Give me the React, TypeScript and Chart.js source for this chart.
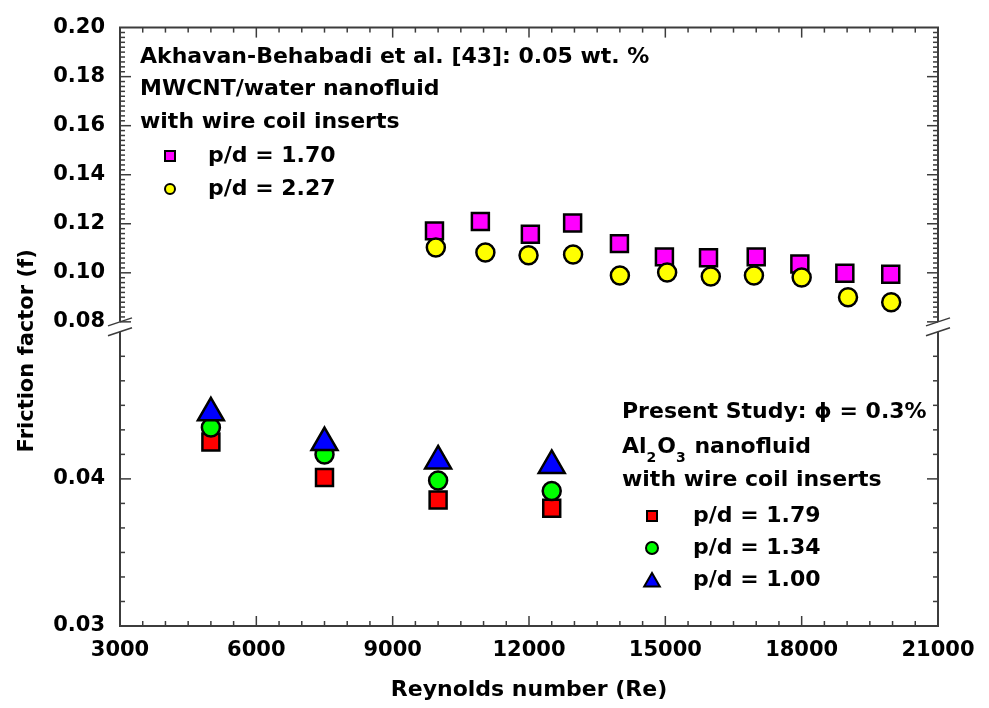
import React, { useEffect, useRef } from 'react';
import { Chart, registerables } from 'chart.js';

Chart.register(...registerables);

// ---- Data ----
// Akhavan-Behabadi et al. [43], MWCNT/water, wire coil inserts
const RE_PD170 = [9920, 10930, 12030, 12960, 13990, 14980, 15950, 17000, 17960, 18950, 19960];
const F_PD170 = [0.1171, 0.1209, 0.1157, 0.1203, 0.1119, 0.1065, 0.1061, 0.1065, 0.1036, 0.0998, 0.0994];
const RE_PD227 = [9950, 11040, 11990, 12970, 14000, 15040, 16000, 16950, 18000, 19020, 19970];
const F_PD227 = [0.1103, 0.1083, 0.1072, 0.1075, 0.0989, 0.1001, 0.0985, 0.0989, 0.0981, 0.0900, 0.0880];

// Present study, Al2O3 nanofluid phi = 0.3%
const RE_PRESENT = [5000, 7500, 10000, 12500];
const F_PD179 = [0.0425, 0.0401, 0.03856, 0.0380];
const F_PD134 = [0.04349, 0.04165, 0.03989, 0.03917];
const F_PD100 = [0.04449, 0.04247, 0.04122, 0.04091];

// ---- Axes ----
const X_TICKS = [3000, 6000, 9000, 12000, 15000, 18000, 21000];
const Y_TOP_TICKS = [0.08, 0.10, 0.12, 0.14, 0.16, 0.18, 0.20];
const Y_BOT_TICKS = [0.03, 0.04];
const X_MIN = 3000;
const X_MAX = 21000;
const Y_TOP_MIN = 0.08;
const Y_TOP_MAX = 0.20;
const Y_BOT_MIN = 0.03;
const Y_BOT_MAX = 0.05;

const FONT_FAMILY = '"DejaVu Sans", sans-serif';
const AXIS_COLOR = '#3c3c3c';

function line(ctx: CanvasRenderingContext2D, x1: number, y1: number, x2: number, y2: number) {
  ctx.beginPath();
  ctx.moveTo(x1, y1);
  ctx.lineTo(x2, y2);
  ctx.stroke();
}

const framePlugin = {
  id: 'brokenFrame',
  beforeDatasetsDraw(chart: any) {
    const { ctx, chartArea: a, scales } = chart;
    const xs = scales.x;
    const yt = scales.yTop;
    const yb = scales.yBot;
    const yBreakTop = yt.getPixelForValue(Y_TOP_MIN);
    const yBreakBot = yb.getPixelForValue(Y_BOT_MAX);
    ctx.save();
    ctx.strokeStyle = AXIS_COLOR;
    ctx.lineCap = 'butt';
    ctx.lineWidth = 2;
    line(ctx, a.left - 1, a.top, a.right + 1, a.top);
    line(ctx, a.left - 1, a.bottom, a.right + 1, a.bottom);
    for (const xx of [a.left, a.right]) {
      line(ctx, xx, a.top, xx, yBreakTop);
      line(ctx, xx, yBreakBot, xx, a.bottom);
    }
    // x ticks (bottom and top)
    ctx.lineWidth = 1.5;
    for (let i = 0; i <= 36; i++) {
      const v = X_MIN + i * 500;
      const px = xs.getPixelForValue(v);
      const major = i % 6 === 0;
      const len = major ? 10 : 5;
      if (i === 0 || i === 36) continue;
      line(ctx, px, a.bottom, px, a.bottom - len);
      line(ctx, px, a.top, px, a.top + len);
    }
    // y top ticks
    for (let i = 0; i <= 60; i++) {
      const v = Y_TOP_MIN + i * 0.002;
      const py = yt.getPixelForValue(v);
      const major = i % 10 === 0;
      const len = major ? 11 : 5;
      if (i === 60) continue;
      line(ctx, a.left, py, a.left + len, py);
      line(ctx, a.right, py, a.right - len, py);
    }
    // y bottom ticks
    for (let i = 1; i < 12; i++) {
      const v = Y_BOT_MIN + (i * 0.01) / 6;
      const py = yb.getPixelForValue(v);
      const major = i % 6 === 0;
      const len = major ? 11 : 5;
      line(ctx, a.left, py, a.left + len, py);
      line(ctx, a.right, py, a.right - len, py);
    }
    // break marks
    ctx.lineWidth = 1.5;
    for (const xx of [a.left, a.right]) {
      for (const yy of [yBreakTop, yBreakBot]) {
        line(ctx, xx - 12, yy + 4, xx + 12, yy - 4);
      }
    }
    ctx.restore();
  },
};

function drawSquare(ctx: CanvasRenderingContext2D, x: number, y: number, s: number, fill: string) {
  ctx.fillStyle = fill;
  ctx.strokeStyle = '#000';
  ctx.lineWidth = 2;
  ctx.beginPath();
  ctx.rect(x - s / 2, y - s / 2, s, s);
  ctx.fill();
  ctx.stroke();
}
function drawCircle(ctx: CanvasRenderingContext2D, x: number, y: number, r: number, fill: string) {
  ctx.fillStyle = fill;
  ctx.strokeStyle = '#000';
  ctx.lineWidth = 2;
  ctx.beginPath();
  ctx.arc(x, y, r, 0, Math.PI * 2);
  ctx.fill();
  ctx.stroke();
}
function drawTriangle(ctx: CanvasRenderingContext2D, x: number, y: number, r: number, fill: string) {
  ctx.fillStyle = fill;
  ctx.strokeStyle = '#000';
  ctx.lineWidth = 2;
  ctx.beginPath();
  ctx.moveTo(x, y - r);
  ctx.lineTo(x + r * Math.sin((2 * Math.PI) / 3), y - r * Math.cos((2 * Math.PI) / 3));
  ctx.lineTo(x + r * Math.sin((4 * Math.PI) / 3), y - r * Math.cos((4 * Math.PI) / 3));
  ctx.closePath();
  ctx.fill();
  ctx.stroke();
}

const textPlugin = {
  id: 'annotations',
  afterDraw(chart: any) {
    const { ctx, chartArea: a } = chart;
    ctx.save();
    ctx.fillStyle = '#000';
    ctx.textBaseline = 'middle';
    ctx.textAlign = 'left';

    // y-axis title
    ctx.save();
    ctx.font = `bold 21px ${FONT_FAMILY}`;
    ctx.translate(28, (a.top + a.bottom) / 2 + 24);
    ctx.rotate(-Math.PI / 2);
    ctx.textAlign = 'center';
    ctx.fillText('Friction factor (f)', 0, 0);
    ctx.restore();

    // upper annotation
    const ux = a.left + 20;
    ctx.font = `bold 22px ${FONT_FAMILY}`;
    ctx.fillText('Akhavan-Behabadi et al. [43]: 0.05 wt. %', ux, 57);
    ctx.fillText('MWCNT/water nanofluid', ux, 89);
    ctx.fillText('with wire coil inserts', ux, 122);
    drawSquare(ctx, ux + 30, 156, 10, '#ff00ff');
    drawCircle(ctx, ux + 30, 189, 5, '#ffff00');
    ctx.fillStyle = '#000';
    ctx.font = `bold 22px ${FONT_FAMILY}`;
    ctx.fillText('p/d = 1.70', ux + 68, 156);
    ctx.fillText('p/d = 2.27', ux + 68, 189);

    // lower annotation
    const lx = 622;
    ctx.fillText('Present Study: \u03D5 = 0.3%', lx, 412);
    let cx = lx;
    const parts: [string, boolean][] = [['Al', false], ['2', true], ['O', false], ['3', true], [' nanofluid', false]];
    for (const [t, sub] of parts) {
      ctx.font = sub ? `bold 14px ${FONT_FAMILY}` : `bold 22px ${FONT_FAMILY}`;
      ctx.fillText(t, cx, sub ? 447 + 11 : 447);
      cx += ctx.measureText(t).width + (sub ? 1 : 0);
    }
    ctx.font = `bold 22px ${FONT_FAMILY}`;
    ctx.fillText('with wire coil inserts', lx, 480);
    drawSquare(ctx, lx + 30, 516, 10, '#ff0000');
    drawCircle(ctx, lx + 30, 548, 6, '#00ff00');
    drawTriangle(ctx, lx + 30, 582, 9, '#0000ff');
    ctx.fillStyle = '#000';
    ctx.fillText('p/d = 1.79', lx + 71, 516);
    ctx.fillText('p/d = 1.34', lx + 71, 548);
    ctx.fillText('p/d = 1.00', lx + 71, 580);
    ctx.restore();
  },
};

function series(
  label: string,
  xs: number[],
  ys: number[],
  yAxisID: string,
  pointStyle: string,
  color: string,
  radius: number,
  order: number
) {
  return {
    label,
    data: xs.map((x, i) => ({ x, y: ys[i] })),
    xAxisID: 'x',
    yAxisID,
    pointStyle,
    backgroundColor: color,
    borderColor: '#000',
    pointBackgroundColor: color,
    pointBorderColor: '#000',
    pointBorderWidth: 2.5,
    borderWidth: 2.5,
    pointRadius: radius,
    pointHoverRadius: radius,
    showLine: false,
    order,
  };
}

export default function App() {
  const ref = useRef<HTMLCanvasElement>(null);
  useEffect(() => {
    document.body.style.margin = '0';
    const tickFont = { family: FONT_FAMILY, size: 21, weight: 'bold' as const };
    const chart = new Chart(ref.current as HTMLCanvasElement, {
      type: 'scatter',
      data: {
        datasets: [
          series('p/d = 1.00', RE_PRESENT, F_PD100, 'yBot', 'triangle', '#0000ff', 15, 1),
          series('p/d = 1.34', RE_PRESENT, F_PD134, 'yBot', 'circle', '#00ff00', 9, 2),
          series('p/d = 1.79', RE_PRESENT, F_PD179, 'yBot', 'rect', '#ff0000', 12, 3),
          series('p/d = 2.27', RE_PD227, F_PD227, 'yTop', 'circle', '#ffff00', 9, 4),
          series('p/d = 1.70', RE_PD170, F_PD170, 'yTop', 'rect', '#ff00ff', 12, 5),
        ] as any,
      },
      options: {
        animation: false,
        responsive: true,
        maintainAspectRatio: false,
        devicePixelRatio: 1,
        layout: { padding: { top: 22, right: 51, left: 0, bottom: 0 } },
        plugins: { legend: { display: false }, tooltip: { enabled: false } },
        scales: {
          x: {
            type: 'linear',
            position: 'bottom',
            min: X_MIN,
            max: X_MAX,
            afterBuildTicks: (s: any) => {
              s.ticks = X_TICKS.map((v) => ({ value: v }));
            },
            ticks: {
              font: tickFont,
              color: '#000',
              padding: 12,
              maxRotation: 0,
              autoSkip: false,
              callback: (v: any) => String(v),
            },
            grid: { display: false, drawTicks: false },
            border: { display: false },
            title: {
              display: true,
              text: 'Reynolds number (Re)',
              color: '#000',
              font: { family: FONT_FAMILY, size: 22, weight: 'bold' },
              padding: { top: 0, bottom: 5 },
            },
            afterFit: (s: any) => {
              s.height = 82;
            },
          },
          yBot: {
            type: 'linear',
            axis: 'y',
            position: 'left',
            stack: 'y',
            stackWeight: 1,
            min: Y_BOT_MIN,
            max: Y_BOT_MAX + 5 / 14800,
            bounds: 'data',
            afterBuildTicks: (s: any) => {
              s.ticks = Y_BOT_TICKS.map((v) => ({ value: v }));
            },
            ticks: { font: tickFont, color: '#000', padding: 15, callback: (v: any) => Number(v).toFixed(2) },
            grid: { display: false, drawTicks: false },
            border: { display: false },
            afterFit: (s: any) => {
              s.width = 120;
            },
          },
          yTop: {
            type: 'linear',
            axis: 'y',
            position: 'left',
            stack: 'y',
            stackWeight: 1,
            min: Y_TOP_MIN - 5 / 2475,
            max: Y_TOP_MAX,
            bounds: 'data',
            afterBuildTicks: (s: any) => {
              s.ticks = Y_TOP_TICKS.map((v) => ({ value: v }));
            },
            ticks: { font: tickFont, color: '#000', padding: 15, callback: (v: any) => Number(v).toFixed(2) },
            grid: { display: false, drawTicks: false },
            border: { display: false },
            afterFit: (s: any) => {
              s.width = 120;
            },
          },
        } as any,
      },
      plugins: [framePlugin, textPlugin],
    });
    return () => chart.destroy();
  }, []);
  return (
    <div style={{ position: 'relative', width: 989, height: 708 }}>
      <canvas ref={ref} />
    </div>
  );
}
